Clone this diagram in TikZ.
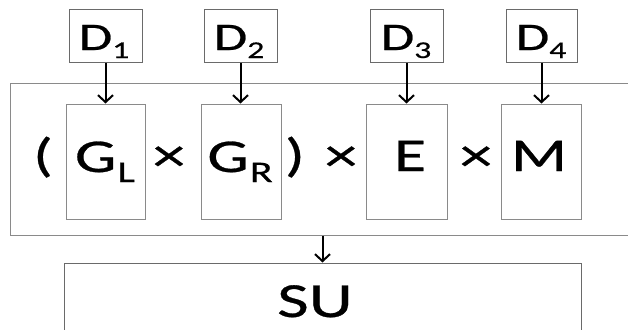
\documentclass[tikz,border=0pt]{standalone}
\usepackage{fontspec}
\setmainfont{Carlito}[FakeStretch=1.4,FakeBold=0.6]
\usetikzlibrary{arrows.meta}
\definecolor{boxgray}{HTML}{8A8A8A}
\definecolor{dgray}{HTML}{6A6A6A}
\newcommand{\lowsub}[3]{\raisebox{-#2pt}{\fontsize{#3}{#3}\selectfont #1}}
\begin{document}
\begin{tikzpicture}[x=1pt,y=-1pt,
  pbox/.style={draw=boxgray,line width=1pt,inner sep=0pt,minimum height=115pt,minimum width=80pt},
  dbox/.style={draw=dgray,line width=1pt,inner sep=0pt,minimum height=53pt,minimum width=73pt},
  arr/.style={line width=2pt,-{Straight Barb[length=7pt,width=15pt,line width=2pt]}},
  lbl/.style={inner sep=0pt,anchor=base,font=\fontsize{47}{47}\selectfont},
  dlbl/.style={inner sep=0pt,anchor=base,font=\fontsize{39}{39}\selectfont}]
\useasboundingbox (0,0) rectangle (628,329);
% outer box
\node[draw=boxgray,line width=1pt,inner sep=0pt,minimum width=630pt,minimum height=152pt] (outer) at (325,159) {};
% SU box
\node[draw=dgray,line width=1pt,inner sep=0pt,minimum width=517pt,minimum height=90pt] (SU) at (322.5,308) {};
\node[lbl,font=\fontsize{49}{49}\selectfont] (sut) at (315,317) {SU};
% D boxes
\node[dbox] (D1) at (105.5,35.75) {};
\node[dbox] (D2) at (240.5,35.75) {};
\node[dbox] (D3) at (406.5,35.75) {};
\node[dbox,minimum width=71pt] (D4) at (541.5,35.75) {};
\node[dlbl] (d1t) at (104,50) {D\lowsub{1}{8}{24}};
\node[dlbl] (d2t) at (239,50) {D\lowsub{2}{8}{24}};
\node[dlbl] (d3t) at (406,50) {D\lowsub{3}{8}{24}};
\node[dlbl] (d4t) at (541,50) {D\lowsub{4}{8}{24}};
% factor boxes
\node[pbox,minimum width=79pt] (GL) at (105.5,161.5) {};
\node[pbox] (GR) at (241,161.5) {};
\node[pbox,minimum width=81pt] (E) at (406.5,161.5) {};
\node[pbox] (M) at (541,161.5) {};
\node[lbl] (glt) at (105,172) {G\kern1pt\lowsub{L}{10}{30}};
\node[lbl] (grt) at (240,172) {G\kern1pt\lowsub{R}{10}{30}};
\node[lbl] (et) at (410,171) {E};
\node[lbl] (mt) at (539,171) {M};
\node[lbl] (lp) at (43,171) {(};
\node[lbl] (x1) at (169,171) {×};
\node[lbl] (rp) at (295,171) {)};
\node[lbl] (x2) at (341,171) {×};
\node[lbl] (x3) at (476,171) {×};
% arrows
\draw[arr] (D1.south) -- (D1.south |- GL.north);
\draw[arr] (D2.south) -- (D2.south |- GR.north);
\draw[arr] (D3.south) -- (D3.south |- E.north);
\draw[arr] (D4.south) -- (D4.south |- M.north);
\draw[arr] (SU.north |- outer.south) -- (SU.north);
\end{tikzpicture}
\end{document}
